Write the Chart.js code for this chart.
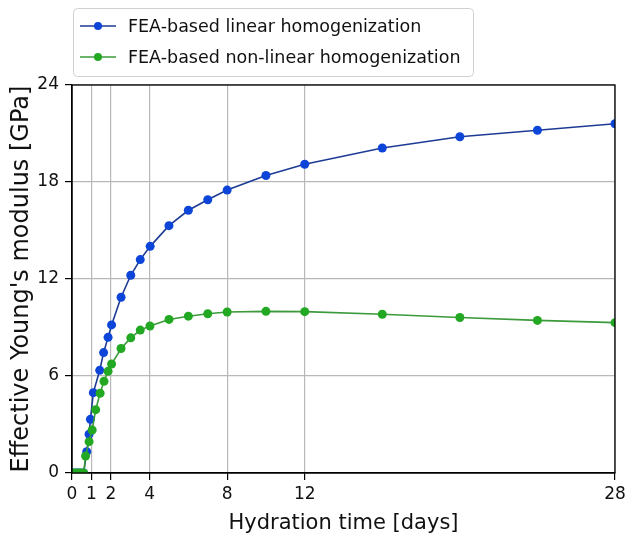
<!DOCTYPE html>
<html>
<head>
<meta charset="utf-8">
<script src="https://cdn.jsdelivr.net/npm/chart.js@4"></script>
<style>
  html, body { margin: 0; padding: 0; background: #fff; }
  #wrap { width: 627px; height: 540px; }
</style>
</head>
<body>
<div id="wrap"><canvas id="chart"></canvas></div>
<script>
// data
const linearDays = [0, 0.15, 0.3, 0.45, 0.6, 0.76, 0.88, 0.95, 1.1, 1.43, 1.63, 1.86, 2.04, 2.53, 3.03, 3.52, 4.03, 5, 6, 7, 8, 10, 12, 16, 20, 24, 28];
const linearModulus = [0, 0, 0, 0, 0, 1.32, 2.4, 3.32, 4.97, 6.35, 7.45, 8.39, 9.16, 10.87, 12.23, 13.2, 14.02, 15.3, 16.25, 16.9, 17.5, 18.4, 19.1, 20.1, 20.8, 21.2, 21.6];
const nonlinearDays = [0, 0.15, 0.3, 0.45, 0.6, 0.7, 0.88, 1.04, 1.22, 1.45, 1.65, 1.86, 2.04, 2.53, 3.03, 3.52, 4.02, 5, 6, 7, 8, 10, 12, 16, 20, 24, 28];
const nonlinearModulus = [0, 0, 0, 0, 0, 1.05, 1.94, 2.66, 3.92, 4.93, 5.67, 6.29, 6.74, 7.7, 8.36, 8.84, 9.09, 9.5, 9.7, 9.85, 9.96, 10.0, 9.98, 9.82, 9.62, 9.44, 9.3];
const xTicks = [0, 1, 2, 4, 8, 12, 28];
const yTicks = [0, 6, 12, 18, 24];
const seriesNames = ['FEA-based linear homogenization', 'FEA-based non-linear homogenization'];

const font = "'DejaVu Sans', sans-serif";

function toPoints(xs, ys) {
    return xs.map((x, i) => ({ x: x, y: ys[i] }));
}

// matplotlib-like legend box and frame
const extras = {
    id: 'extras',
    afterDraw(chart) {
        const ctx = chart.ctx;
        const a = chart.chartArea;
        ctx.save();
        ctx.strokeStyle = '#000';
        ctx.lineWidth = 1.3;
        ctx.strokeRect(a.left, a.top, a.right - a.left, a.bottom - a.top);

        // legend
        const bx = 73, by = 8, bw = 400, bh = 68;
        ctx.fillStyle = 'rgba(255,255,255,0.9)';
        ctx.strokeStyle = '#d0d0d0';
        ctx.lineWidth = 1;
        ctx.beginPath();
        ctx.roundRect(bx + 0.5, by + 0.5, bw, bh, 4);
        ctx.fill();
        ctx.stroke();
        chart.data.datasets.forEach((ds, i) => {
            const y = by + 18 + i * 31;
            ctx.strokeStyle = ds.borderColor;
            ctx.lineWidth = 1.6;
            ctx.beginPath();
            ctx.moveTo(80, y);
            ctx.lineTo(116, y);
            ctx.stroke();
            ctx.fillStyle = ds.pointBackgroundColor;
            ctx.beginPath();
            ctx.arc(98, y, 4, 0, Math.PI * 2);
            ctx.fill();
            ctx.fillStyle = '#111';
            ctx.font = '17.5px ' + font;
            ctx.textBaseline = 'middle';
            ctx.fillText(ds.label, 128, y + 1);
        });
        ctx.restore();
    }
};

const chart = new Chart(document.getElementById('chart'), {
    type: 'line',
    data: {
        datasets: [
            {
                label: seriesNames[0],
                data: toPoints(linearDays, linearModulus),
                borderColor: '#1d3b94',
                backgroundColor: '#0c45d8',
                pointBackgroundColor: '#0c45d8',
                pointBorderColor: '#0c45d8',
                borderWidth: 1.6,
                pointRadius: 4.5,
                pointBorderWidth: 0,
                tension: 0,
                clip: 0,
                order: 1
            },
            {
                label: seriesNames[1],
                data: toPoints(nonlinearDays, nonlinearModulus),
                borderColor: '#3b9a3b',
                backgroundColor: '#22a822',
                pointBackgroundColor: '#22a822',
                pointBorderColor: '#22a822',
                borderWidth: 1.6,
                pointRadius: 4.5,
                pointBorderWidth: 0,
                tension: 0,
                clip: 0,
                order: 0
            }
        ]
    },
    options: {
        responsive: true,
        maintainAspectRatio: false,
        animation: false,
        events: [],
        layout: { padding: { left: 0, right: 12, top: 85, bottom: 0 } },
        plugins: {
            legend: { display: false },
            tooltip: { enabled: false }
        },
        scales: {
            x: {
                type: 'linear',
                min: 0,
                max: 28,
                afterBuildTicks: s => { s.ticks = xTicks.map(v => ({ value: v })); },
                afterFit: s => { s.height = 67; s.paddingLeft = 0; s.paddingRight = 0; },
                grid: { color: '#b8b8b8', lineWidth: 1.2, tickColor: '#000', tickLength: 7 },
                border: { color: '#000', width: 1.3 },
                ticks: { color: '#111', font: { family: font, size: 17 }, padding: 4, maxRotation: 0, autoSkip: false },
                title: { display: true, text: 'Hydration time [days]', color: '#111', font: { family: font, size: 21 }, padding: { top: 0, bottom: 4 } }
            },
            y: {
                type: 'linear',
                min: 0,
                max: 24,
                afterBuildTicks: s => { s.ticks = yTicks.map(v => ({ value: v })); },
                afterFit: s => { s.width = 72; s.paddingTop = 0; s.paddingBottom = 0; },
                grid: { color: '#b8b8b8', lineWidth: 1.2, tickColor: '#000', tickLength: 7 },
                border: { color: '#000', width: 1.3 },
                ticks: { color: '#111', font: { family: font, size: 17 }, padding: 6 },
                title: { display: true, text: "Effective Young's modulus [GPa]", color: '#111', font: { family: font, size: 24 }, padding: { top: 7, bottom: 0 } }
            }
        }
    },
    plugins: [extras]
});
</script>
</body>
</html>
